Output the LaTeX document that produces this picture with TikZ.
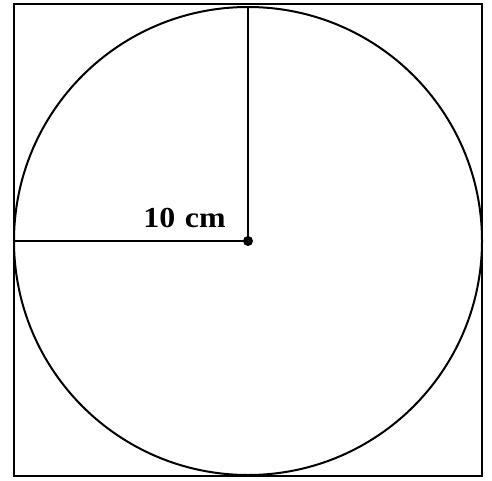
\documentclass[tikz,border=0pt]{standalone}
\usepackage{fontspec}
\setmainfont{Liberation Serif}
\begin{document}
\begin{tikzpicture}[x=1pt,y=-1pt,
  edge/.style={line width=2pt,black},
  lbl/.style={font=\bfseries\fontsize{29}{31}\selectfont,inner sep=0pt,anchor=base,xscale=1.1}]
\useasboundingbox (0,0) rectangle (492,481);
\coordinate (tl) at (14,4);
\coordinate (br) at (482,476);
\coordinate (c) at (248,241);
\coordinate (l) at (14,241);
\coordinate (t) at (248,6);
\draw[edge] (tl) rectangle (br);
\draw[edge] (c) circle[radius=234];
\draw[edge] (l) -- (c);
\draw[edge] (t) -- (c);
\fill (c) circle[radius=5];
\node[lbl] (label) at (184.5,227) {10\hspace{0.3em}cm};
\end{tikzpicture}
\end{document}
